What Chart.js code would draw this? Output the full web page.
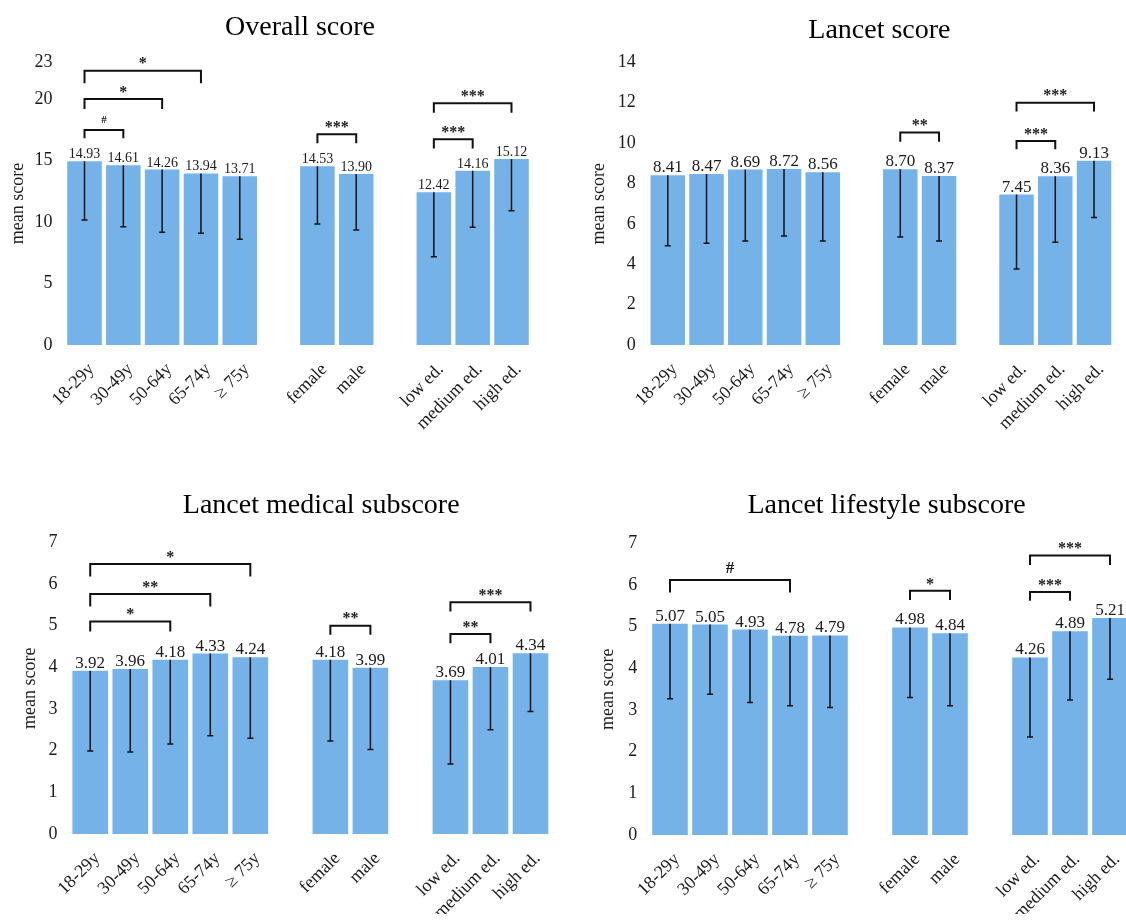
<!DOCTYPE html>
<html><head><meta charset="utf-8">
<script src="https://cdn.jsdelivr.net/npm/chart.js@4.4.1/dist/chart.umd.min.js"></script>
<style>
html,body{margin:0;padding:0;background:#fff;overflow:hidden;width:1126px;height:920px;position:relative;}
canvas{position:absolute;}
</style></head><body>
<canvas id="c1"></canvas><canvas id="c2"></canvas><canvas id="c3"></canvas><canvas id="c4"></canvas>
<script>
// ---------- data ----------
const categories = ['18-29y','30-49y','50-64y','65-74y','\u2265 75y','','female','male','','low ed.','medium ed.','high ed.'];

const overallMeans = [14.93,14.61,14.26,13.94,13.71,null,14.53,13.90,null,12.42,14.16,15.12];
const overallLower = [10.16,9.62,9.16,9.08,8.59,null,9.83,9.35,null,7.18,9.56,10.92];
const overallTicks = [0,5,10,15,20,23];
const overallBrackets = [[0,1,17.47,16.80,'#'],[0,2,19.99,19.18,'*'],[0,3,22.29,21.27,'*'],[6,7,17.12,16.39,'***'],[9,10,16.72,15.98,'***'],[9,11,19.64,18.88,'***']];

const lancetMeans = [8.41,8.47,8.69,8.72,8.56,null,8.70,8.37,null,7.45,8.36,9.13];
const lancetLower = [4.92,5.04,5.15,5.40,5.15,null,5.35,5.15,null,3.76,5.09,6.31];
const lancetTicks = [0,2,4,6,8,10,12,14];
const lancetBrackets = [[6,7,10.52,10.07,'**'],[9,10,10.10,9.69,'***'],[9,11,12.0,11.56,'***']];

const medicalMeans = [3.92,3.96,4.18,4.33,4.24,null,4.18,3.99,null,3.69,4.01,4.34];
const medicalLower = [1.99,1.97,2.16,2.36,2.30,null,2.23,2.03,null,1.68,2.50,2.94];
const medicalTicks = [0,1,2,3,4,5,6,7];
const medicalBrackets = [[0,2,5.10,4.86,'*'],[0,3,5.76,5.46,'**'],[0,4,6.48,6.18,'*'],[6,7,5.00,4.78,'**'],[9,10,4.80,4.58,'**'],[9,11,5.56,5.34,'***']];

const lifestyleMeans = [5.07,5.05,4.93,4.78,4.79,null,4.98,4.84,null,4.26,4.89,5.21];
const lifestyleLower = [3.27,3.38,3.18,3.10,3.06,null,3.30,3.10,null,2.35,3.24,3.74];
const lifestyleTicks = [0,1,2,3,4,5,6,7];
const lifestyleBrackets = [[0,3,6.12,5.82,'#'],[6,7,5.86,5.64,'*'],[9,10,5.83,5.62,'***'],[9,11,6.71,6.48,'***']];

// ---------- styling / layout ----------
const SERIF = "'Liberation Serif','Times New Roman',serif";
const TXT = '#1a1a1a';
const BAR = '#75b2e8';

const panels = [
  {id:'c1', title:'Overall score', means:overallMeans, lower:overallLower, yTicks:overallTicks, brackets:overallBrackets,
   box:{left:0,top:0,w:563,h:460}, area:{left:65.1,right:530.9,top:62,bottom:345}, titleX:300, titleBase:35, yTitleX:18, valueSize:14, hashSize:11},
  {id:'c2', title:'Lancet score', means:lancetMeans, lower:lancetLower, yTicks:lancetTicks, brackets:lancetBrackets,
   box:{left:563,top:0,w:600,h:460}, area:{left:648.4,right:1113.4,top:62.3,bottom:345}, titleX:879.4, titleBase:38.3, yTitleX:599.4, valueSize:17, hashSize:16},
  {id:'c3', title:'Lancet medical subscore', means:medicalMeans, lower:medicalLower, yTicks:medicalTicks, brackets:medicalBrackets,
   box:{left:0,top:460,w:563,h:460}, area:{left:70.2,right:550.5,top:542.3,bottom:834}, titleX:321.2, titleBase:513.3, yTitleX:29.8, valueSize:17, hashSize:16},
  {id:'c4', title:'Lancet lifestyle subscore', means:lifestyleMeans, lower:lifestyleLower, yTicks:lifestyleTicks, brackets:lifestyleBrackets,
   box:{left:563,top:460,w:600,h:460}, area:{left:650,right:1130,top:543.3,bottom:835}, titleX:886.6, titleBase:513.3, yTitleX:608, valueSize:17, hashSize:17}
];

function build(p) {
  const cv = document.getElementById(p.id);
  cv.width = p.box.w; cv.height = p.box.h;
  cv.style.left = p.box.left + 'px'; cv.style.top = p.box.top + 'px';
  cv.style.width = p.box.w + 'px'; cv.style.height = p.box.h + 'px';
  const ax = {l:p.area.left - p.box.left, r:p.area.right - p.box.left, t:p.area.top - p.box.top, b:p.area.bottom - p.box.top};
  const yScaleLeft = p.yTitleX - p.box.left - 10.8;
  const padBottom = 6;
  const xH = p.box.h - ax.b - padBottom;
  const yMax = p.yTicks[p.yTicks.length - 1];
  new Chart(cv, {
    type:'bar',
    data:{labels:categories, datasets:[{data:p.means, backgroundColor:BAR, borderWidth:0, barPercentage:0.89, categoryPercentage:1}]},
    options:{
      responsive:false, animation:false, devicePixelRatio:1,
      layout:{padding:{left:yScaleLeft, right:p.box.w - ax.r, top:ax.t, bottom:padBottom}},
      plugins:{legend:{display:false}, tooltip:{enabled:false}, title:{display:false}},
      scales:{
        x:{grid:{display:false, drawTicks:false}, border:{display:false},
           ticks:{autoSkip:false, maxRotation:45, minRotation:45, font:{family:SERIF, size:18}, color:TXT, padding:14, labelOffset:7},
           afterFit(s){ s.height = xH; }},
        y:{min:0, max:yMax, grid:{display:false, drawTicks:false}, border:{display:false},
           ticks:{font:{family:SERIF, size:18}, color:TXT, padding:12.7},
           title:{display:true, text:'mean score', font:{family:SERIF, size:18}, color:TXT, padding:0},
           afterBuildTicks(s){ s.ticks = p.yTicks.map(v => ({value:v})); },
           afterFit(s){ s.width = ax.l - yScaleLeft; }}
      }
    },
    plugins:[{
      id:'annot' + p.id,
      afterDatasetsDraw(chart){
        const ctx = chart.ctx, xs = chart.scales.x, ys = chart.scales.y;
        ctx.save();
        ctx.strokeStyle = '#111';
        ctx.fillStyle = TXT;
        ctx.textAlign = 'center';
        ctx.textBaseline = 'alphabetic';
        p.means.forEach((m, i) => {
          if (m == null) return;
          const x = xs.getPixelForValue(i);
          const yt = ys.getPixelForValue(m), yb = ys.getPixelForValue(p.lower[i]);
          ctx.lineWidth = 1.5;
          ctx.beginPath();
          ctx.moveTo(x, yt); ctx.lineTo(x, yb);
          ctx.moveTo(x - 3, yb); ctx.lineTo(x + 3, yb);
          ctx.stroke();
          ctx.font = p.valueSize + 'px ' + SERIF;
          ctx.fillText(m.toFixed(2), x, yt - 3);
        });
        p.brackets.forEach(([a, b, top, leg, lab]) => {
          const x1 = xs.getPixelForValue(a), x2 = xs.getPixelForValue(b);
          const yT = ys.getPixelForValue(top), yL = ys.getPixelForValue(leg);
          ctx.lineWidth = 2;
          ctx.beginPath();
          ctx.moveTo(x1, yL); ctx.lineTo(x1, yT); ctx.lineTo(x2, yT); ctx.lineTo(x2, yL);
          ctx.stroke();
          const isHash = lab === '#';
          const size = isHash ? p.hashSize : 16;
          ctx.font = 'bold ' + size + 'px ' + SERIF;
          ctx.fillText(lab, (x1 + x2) / 2, yT - (isHash ? 6 + size * 0.05 : 2.3));
        });
        ctx.font = '28px ' + SERIF;
        ctx.fillStyle = '#000';
        ctx.fillText(p.title, p.titleX - p.box.left, p.titleBase - p.box.top);
        ctx.restore();
      }
    }]
  });
}
panels.forEach(build);
</script>
</body></html>
